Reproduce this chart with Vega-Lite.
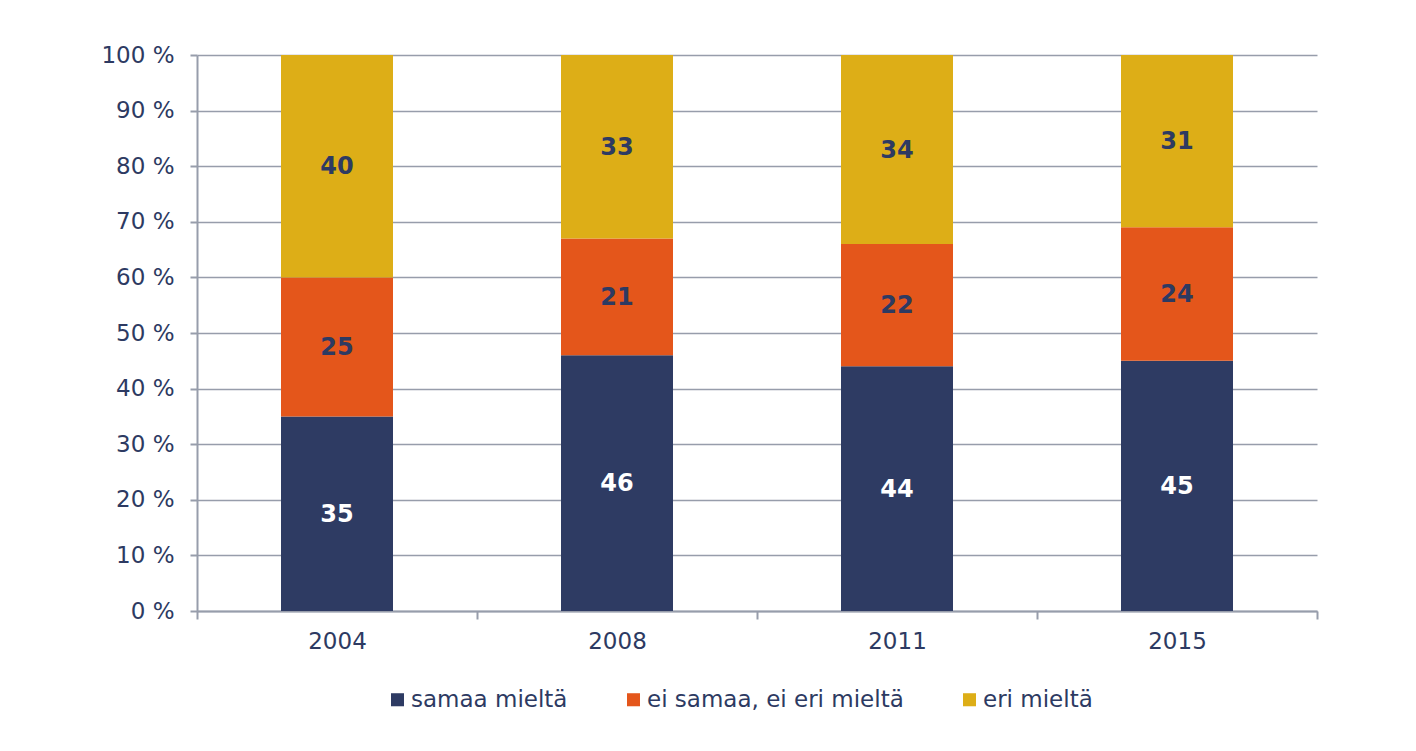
{
  "$schema": "https://vega.github.io/schema/vega-lite/v6.json",
  "autosize": {"type": "none"},
  "width": 1120,
  "height": 556,
  "padding": {"left": 197, "top": 55, "right": 99, "bottom": 140},
  "background": "white",
  "config": {
    "view": {"stroke": null},
    "font": "DejaVu Sans",
    "axis": {
      "labelFont": "DejaVu Sans",
      "labelColor": "#2d3a62",
      "labelFontSize": 23,
      "domainColor": "#979dab",
      "domainWidth": 2,
      "tickColor": "#979dab",
      "tickWidth": 2,
      "gridColor": "#979dab",
      "gridWidth": 1.5,
      "title": null
    }
  },
  "data": {
    "values": [
      {"year": "2004", "cat": "samaa mieltä", "ord": 1, "value": 35},
      {"year": "2004", "cat": "ei samaa, ei eri mieltä", "ord": 2, "value": 25},
      {"year": "2004", "cat": "eri mieltä", "ord": 3, "value": 40},
      {"year": "2008", "cat": "samaa mieltä", "ord": 1, "value": 46},
      {"year": "2008", "cat": "ei samaa, ei eri mieltä", "ord": 2, "value": 21},
      {"year": "2008", "cat": "eri mieltä", "ord": 3, "value": 33},
      {"year": "2011", "cat": "samaa mieltä", "ord": 1, "value": 44},
      {"year": "2011", "cat": "ei samaa, ei eri mieltä", "ord": 2, "value": 22},
      {"year": "2011", "cat": "eri mieltä", "ord": 3, "value": 34},
      {"year": "2015", "cat": "samaa mieltä", "ord": 1, "value": 45},
      {"year": "2015", "cat": "ei samaa, ei eri mieltä", "ord": 2, "value": 24},
      {"year": "2015", "cat": "eri mieltä", "ord": 3, "value": 31}
    ]
  },
  "transform": [
    {"stack": "value", "groupby": ["year"], "sort": [{"field": "ord", "order": "ascending"}], "as": ["v0", "v1"]},
    {"calculate": "(datum.v0 + datum.v1) / 2", "as": "mid"}
  ],
  "encoding": {
    "x": {
      "field": "year",
      "type": "nominal",
      "scale": {"paddingInner": 0, "paddingOuter": 0},
      "axis": {
        "labelAngle": 0,
        "tickBand": "extent",
        "tickSize": 8,
        "labelPadding": 11,
        "grid": false
      }
    }
  },
  "layer": [
    {
      "mark": {"type": "bar", "width": {"band": 0.4}},
      "encoding": {
        "y": {
          "field": "v0",
          "type": "quantitative",
          "scale": {"domain": [0, 100], "nice": false},
          "axis": {
            "values": [0, 10, 20, 30, 40, 50, 60, 70, 80, 90, 100],
            "labelExpr": "datum.value + ' %'",
            "tickSize": 7,
            "labelPadding": 16,
            "grid": true
          }
        },
        "y2": {"field": "v1"},
        "color": {
          "field": "cat",
          "type": "nominal",
          "sort": ["samaa mieltä", "ei samaa, ei eri mieltä", "eri mieltä"],
          "scale": {
            "domain": ["samaa mieltä", "ei samaa, ei eri mieltä", "eri mieltä"],
            "range": ["#2e3b63", "#e4561b", "#ddae17"]
          },
          "legend": {
            "title": null,
            "orient": "none",
            "legendX": 189,
            "legendY": 633,
            "direction": "horizontal",
            "symbolType": "square",
            "symbolSize": 170,
            "symbolStrokeWidth": 0,
            "labelFontSize": 23,
            "labelFont": "DejaVu Sans",
            "labelColor": "#2d3a62",
            "labelOffset": 2,
            "labelLimit": 0,
            "columnPadding": 54
          }
        }
      }
    },
    {
      "mark": {"type": "text", "fontWeight": "bold", "fontSize": 24, "font": "DejaVu Sans", "baseline": "middle", "dy": 1},
      "encoding": {
        "y": {"field": "mid", "type": "quantitative"},
        "text": {"field": "value", "type": "quantitative"},
        "color": {
          "condition": {"test": "datum.cat === 'samaa mieltä'", "value": "white"},
          "value": "#2d3a62"
        }
      }
    }
  ]
}
